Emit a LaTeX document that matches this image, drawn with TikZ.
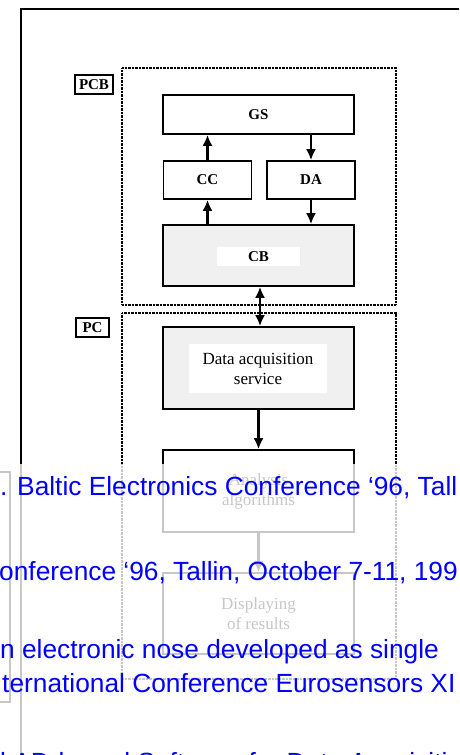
\documentclass[tikz,border=0pt]{standalone}
\usepackage{fontspec}
\setmainfont{Liberation Serif}
\newfontfamily\arialfont{Liberation Sans}
\usepackage{xcolor}
\usetikzlibrary{positioning,arrows.meta}

\definecolor{boxgray}{RGB}{240,240,240}
\definecolor{linkblue}{RGB}{0,0,255}

\begin{document}
\begin{tikzpicture}
            [x=1pt,y=-1pt,
             box/.style={draw, line width=1.6pt, fill=white, inner sep=0pt, minimum width=191pt, align=center, font=\fontsize{17}{20}\selectfont},
             unit/.style={draw, line width=1.6pt, fill=white, inner sep=0pt, minimum width=88pt, minimum height=38pt, font=\bfseries\fontsize{15}{18}\selectfont},
             inbox/.style={fill=white, inner sep=0pt, align=center},
             frame/.style={draw, line width=1.5pt, dash pattern=on 1pt off 0.4pt, inner sep=0pt, minimum width=274pt},
             tag/.style={draw, line width=1.6pt, inner sep=0pt, minimum height=19pt, font=\bfseries\fontsize{15}{18}\selectfont},
             arr/.style={line width=2.4pt, -{Latex[length=11pt,width=10pt]}},
             both/.style={line width=2.4pt, {Latex[length=11pt,width=10pt]}-{Latex[length=11pt,width=10pt]}},
             blue text/.style={anchor=base west, inner sep=0pt, text=linkblue, font=\arialfont\fontsize{26.3}{30}\selectfont}]
            \useasboundingbox (0,0) rectangle (459,755);
            \clip (0,0) rectangle (459,755);

            % outer frame, open to the right and below
            \draw[line width=1.8pt] (470,9) -- (21,9) -- (21,770);
            \draw[line width=1.6pt] (-5,472) rectangle (10,702);

            % board and host frames
            \node[frame, minimum height=237pt] (pcb) at (259,186.5) {};
            \node[frame, minimum height=366pt] (pc) at (259,496) {};
            \node[tag, minimum width=38pt] (pcbtag) at (94,84.5) {PCB};
            \node[tag, minimum width=33pt] (pctag) at (92.5,327.5) {PC};

            % units on the board
            \node[box, minimum height=39pt, font=\bfseries\fontsize{15}{18}\selectfont] (gs) at (258.5,114.5) {GS};
            \node[unit] (cc) at (207.5,180) {CC};
            \node[unit] (da) at (311,180) {DA};
            \node[box, fill=boxgray, minimum height=61pt] (cb) at (258.5,255.5) {};
            \node[inbox, minimum width=83pt, minimum height=19pt, font=\bfseries\fontsize{15}{18}\selectfont] (cbin) at (258.5,256.5) {CB};

            % software on the host
            \node[box, fill=boxgray, minimum height=82pt] (das) at (258.5,368) {};
            \node[inbox, minimum width=138pt, minimum height=49pt, font=\fontsize{17}{20}\selectfont] (dasin) at (258,368.5) {Data acquisition\\service};
            \node[box, minimum height=82pt] (ana) at (258.5,491) {Analysis\\algorithms};
            \node[box, minimum height=81pt] (disp) at (258.5,613.5) {Displaying\\of results};

            % upward links
            \foreach \lo/\hi/\x in {cc/gs/cc, cb/cc/cc}
            \draw[arr] (\x |- \lo.north) -- (\x |- \hi.south);
            % downward links
            \foreach \hi/\lo/\x in {gs/da/da, da/cb/da, das/ana/ana, ana/disp/disp}
            \draw[arr] (\x |- \hi.south) -- (\x |- \lo.north);
            \draw[both] ([xshift=1.5pt]cb.south) -- ([xshift=1.5pt]das.north);

            % faded lower half of the page
            \fill[white, opacity=.78] (-5,464) rectangle (470,770);

            \node[blue text] (ln1) at (0,495) {. Baltic Electronics Conference ‘96, Tall};
            \node[blue text] (ln2) at (-1,580) {onference ‘96, Tallin, October 7-11, 199};
            \node[blue text] (ln3) at (0,658) {n electronic nose developed as single};
            \node[blue text] (ln4) at (2,692) {ternational Conference Eurosensors XI};
            \node[blue text] (ln5) at (0,771) {l AD-based Software for Data Acquisiti};
          \end{tikzpicture}
\end{document}
